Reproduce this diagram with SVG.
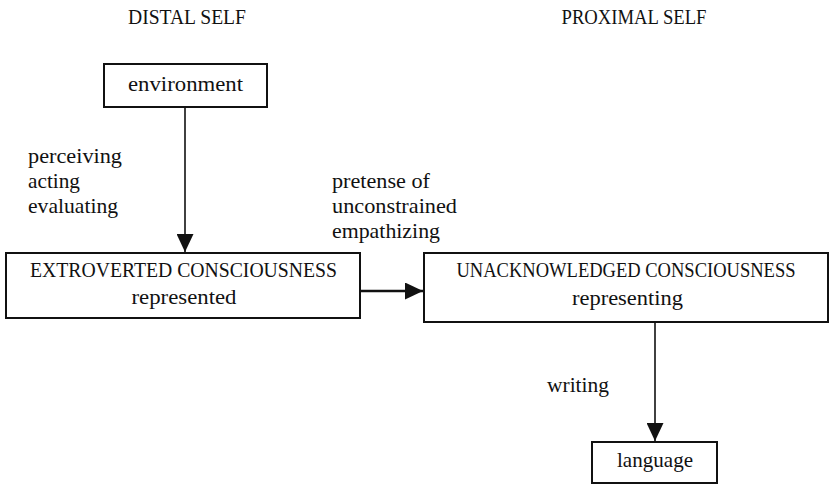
<svg xmlns="http://www.w3.org/2000/svg" width="835" height="487" viewBox="0 0 835 487">
<style>
text{font-family:"Liberation Serif","Times New Roman",serif;font-size:21px;fill:#111}
.cap{font-size:20px}
.c{text-anchor:middle}
.box{fill:#fff;stroke:#111;stroke-width:2}
.edge{stroke:#111;stroke-width:1.6;fill:none}
</style>
<defs>
<marker id="ah" viewBox="0 0 18 17" refX="18" refY="8.5" markerWidth="18" markerHeight="17" markerUnits="userSpaceOnUse" orient="auto">
<path d="M0,0 L18,8.5 L0,17 Z" fill="#111"/>
</marker>
</defs>
<rect width="835" height="487" fill="#fff"/>
<text x="187" y="24" class="c cap" textLength="118" lengthAdjust="spacingAndGlyphs">DISTAL SELF</text>
<text x="634" y="24" class="c cap" textLength="145" lengthAdjust="spacingAndGlyphs">PROXIMAL SELF</text>
<g id="connectors">
<line class="edge" x1="185" y1="107" x2="185" y2="252" marker-end="url(#ah)"/>
<line class="edge" x1="360" y1="291" x2="423" y2="291" marker-end="url(#ah)" style="stroke-width:2.6"/>
<line class="edge" x1="655" y1="322" x2="655" y2="441" marker-end="url(#ah)"/>
<text x="28" y="163" textLength="94" lengthAdjust="spacingAndGlyphs">perceiving</text>
<text x="28" y="188" textLength="52" lengthAdjust="spacingAndGlyphs">acting</text>
<text x="28" y="213" textLength="90" lengthAdjust="spacingAndGlyphs">evaluating</text>
<text x="332" y="188" textLength="98" lengthAdjust="spacingAndGlyphs">pretense of</text>
<text x="332" y="213" textLength="125" lengthAdjust="spacingAndGlyphs">unconstrained</text>
<text x="332" y="238" textLength="108" lengthAdjust="spacingAndGlyphs">empathizing</text>
<text x="547" y="392" textLength="62" lengthAdjust="spacingAndGlyphs">writing</text>
</g>
<g id="environment">
<rect class="box" x="104" y="64" width="163" height="43"/>
<text x="185.5" y="91" class="c" textLength="115" lengthAdjust="spacingAndGlyphs">environment</text>
</g>
<g id="extroverted">
<rect class="box" x="6" y="253" width="354" height="65"/>
<text x="183.5" y="277" class="c cap" textLength="307" lengthAdjust="spacingAndGlyphs">EXTROVERTED CONSCIOUSNESS</text>
<text x="184" y="304" class="c" textLength="105" lengthAdjust="spacingAndGlyphs">represented</text>
</g>
<g id="unacknowledged">
<rect class="box" x="424" y="253" width="404" height="69"/>
<text x="626" y="277" class="c cap" textLength="339" lengthAdjust="spacingAndGlyphs">UNACKNOWLEDGED CONSCIOUSNESS</text>
<text x="627.5" y="305" class="c" textLength="111" lengthAdjust="spacingAndGlyphs">representing</text>
</g>
<g id="language">
<rect class="box" x="592" y="442" width="125" height="41"/>
<text x="655" y="467" class="c" textLength="76" lengthAdjust="spacingAndGlyphs">language</text>
</g>
</svg>
